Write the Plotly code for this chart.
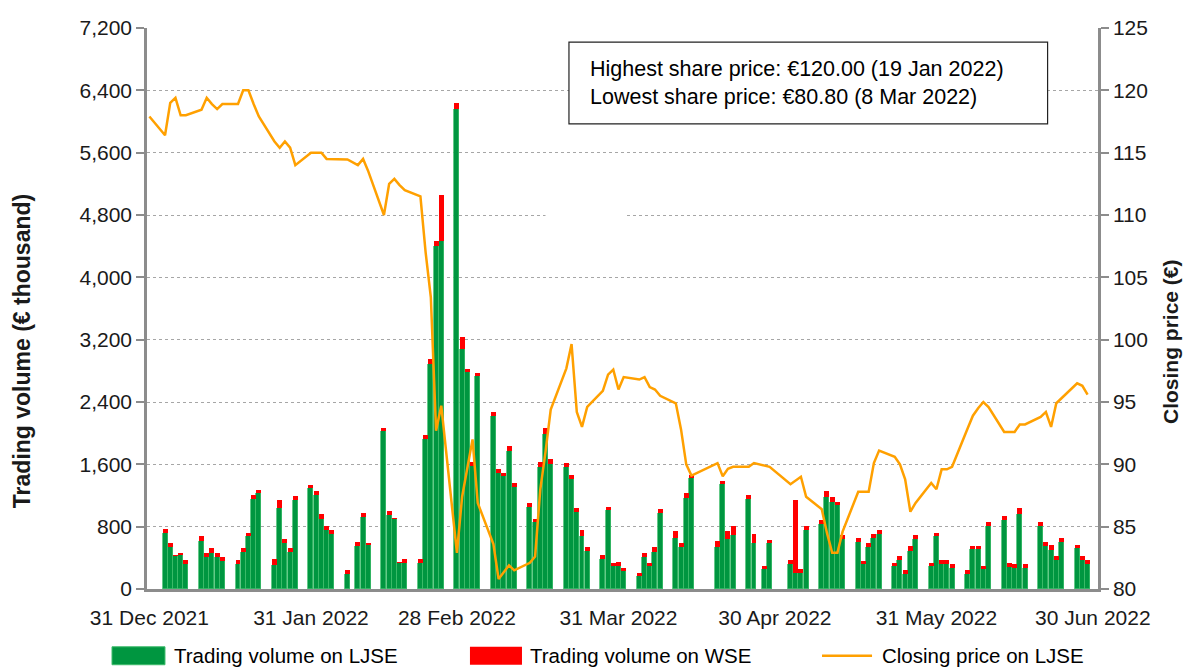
import pandas as pd
import plotly.graph_objects as go

# LJSE trading days Jan-Jun 2022 (Slovenian market holidays removed)
holidays = ["2022-02-08", "2022-04-15", "2022-04-18", "2022-04-27", "2022-05-02"]
trade_days = [d.strftime("%Y-%m-%d") for d in pd.bdate_range("2022-01-03", "2022-06-29")
              if d.strftime("%Y-%m-%d") not in holidays]
price_days = ["2021-12-31"] + trade_days

# trading volume, EUR thousand
ljse = [
    718, 544, 426, 440, 326,
    622, 405, 465, 405, 357,
    326, 470, 674, 1161, 1227,
    304, 1044, 587, 470, 1140,
    1292, 1205, 900, 753, 705,
    196, 557, 922, 574,
    2023, 944, 900, 335, 335,
    335, 1930, 2886, 4400, 4462,
    6156, 3080, 2786, 1585, 2735,
    2216, 1490, 1450, 1775, 1310,
    1058, 855, 1570, 1990, 1605,
    1562, 1414, 992, 674, 492,
    387, 1009, 300, 300, 226,
    161, 405, 291, 474, 979,
    661, 544, 1166, 1422,
    544, 1344, 644, 696,
    1161, 596, 257, 587,
    326, 204, 204, 761,
    840, 1183, 1118, 1079, 644,
    609, 322, 544, 661, 705,
    296, 370, 196, 492, 648,
    296, 679, 326, 326, 274,
    196, 513, 513, 257, 813,
    892, 287, 274, 966, 274,
    813, 557, 500, 378, 609,
    522, 374, 326,
]
wse = [
    52, 43, 10, 10, 44,
    52, 52, 57, 52, 48,
    44, 52, 44, 48, 48,
    87, 96, 52, 52, 48,
    48, 52, 57, 52, 52,
    43, 48, 52, 5,
    43, 56, 5, 5, 48,
    44, 45, 69, 72, 592,
    78, 160, 44, 43, 43,
    61, 44, 45, 55, 55,
    44, 43, 60, 70, 60,
    60, 43, 48, 79, 43,
    48, 48, 35, 48, 44,
    43, 52, 44, 61, 43,
    79, 43, 61, 44,
    74, 48, 96, 109,
    44, 109, 43, 44,
    44, 936, 57, 44,
    43, 70, 57, 43, 43,
    43, 43, 43, 44, 48,
    43, 48, 43, 65, 44,
    43, 43, 44, 44, 44,
    43, 44, 44, 43, 44,
    48, 44, 44, 78, 44,
    44, 43, 70, 44, 43,
    48, 44, 44,
]
# closing price on LJSE, EUR
price = [
    117.9,
    116.4, 119.0, 119.4, 118.0, 118.0,
    118.45, 119.4, 118.9, 118.5, 118.9,
    118.9, 120.0, 120.0, 118.9, 117.9,
    115.9, 115.4, 115.9, 115.4, 114.0,
    115.0, 115.0, 115.0, 114.5, 114.5,
    114.45, 114.0, 114.5, 113.5,
    110.0, 112.5, 112.9, 112.4, 112.0,
    111.5, 107.0, 103.4, 92.7, 94.7,
    82.9, 87.4, 89.6, 92.0, 86.9,
    83.6, 80.8, 81.4, 81.9, 81.5,
    82.1, 82.6, 88.0, 91.0, 94.4,
    97.7, 99.65, 94.2, 93.0, 94.6,
    95.9, 97.2, 97.6, 96.0, 97.0,
    96.8, 97.0, 96.2, 96.0, 95.5,
    94.9, 92.8, 90.0, 89.1,
    90.1, 89.05, 89.65, 89.8,
    89.8, 90.1, 89.9, 89.8,
    88.4, 88.7, 89.0, 87.4,
    86.4, 84.5, 82.9, 82.9, 84.6,
    87.8, 87.8, 87.8, 90.1, 91.1,
    90.6, 90.0, 88.8, 86.2, 86.9,
    88.5, 88.0, 89.6, 89.6, 89.8,
    92.9, 93.9, 94.5, 95.0, 94.6,
    92.6, 92.6, 92.6, 93.2, 93.2,
    93.8, 94.2, 93.0, 94.9, 95.3,
    96.5, 96.3, 95.6,
]

tick_dates = ["2021-12-31", "2022-01-31", "2022-02-28", "2022-03-31",
              "2022-04-30", "2022-05-31", "2022-06-30"]
tick_text = ["31 Dec 2021", "31 Jan 2022", "28 Feb 2022", "31 Mar 2022",
             "30 Apr 2022", "31 May 2022", "30 Jun 2022"]

GREEN = "#009640"
RED = "#FF0000"
ORANGE = "#FFA000"
AXIS = "#8C8C8C"
FONT = "Liberation Sans, Arial, sans-serif"
DAY = 86400000

fig = go.Figure()
fig.add_trace(go.Bar(x=trade_days, y=ljse, width=DAY * 0.95, name="Trading volume on LJSE",
                     marker=dict(color=GREEN, line=dict(color="#3DBB6A", width=0.8))))
fig.add_trace(go.Bar(x=trade_days, y=wse, width=DAY * 0.95, name="Trading volume on WSE",
                     marker=dict(color=RED, line=dict(width=0))))
fig.add_trace(go.Scatter(x=price_days, y=price, yaxis="y2", mode="lines",
                         name="Closing price on LJSE", line=dict(color=ORANGE, width=2.5)))

# small break in the 4,800 gridline, as in the original
fig.add_shape(type="rect", xref="x", yref="y", layer="between",
              x0="2022-03-17", x1="2022-04-01 12:00", y0=4770, y1=4830,
              fillcolor="white", line=dict(width=0))

# info box
fig.add_shape(type="rect", xref="paper", yref="paper", x0=0.4437, x1=0.947, y0=0.829, y1=0.975,
              line=dict(color="#222222", width=1.2), fillcolor="white")
fig.add_annotation(xref="paper", yref="paper", x=0.4637, y=0.902, xanchor="left", yanchor="middle",
                   align="left", showarrow=False,
                   text="Highest share price: €120.00 (19 Jan 2022)<br>Lowest share price: €80.80 (8 Mar 2022)",
                   font=dict(family=FONT, size=21.5, color="black"))

# axis titles (placed like the original, a bit below the middle)
fig.add_annotation(xref="paper", yref="paper", x=-0.1314, y=0.424, textangle=-90, showarrow=False,
                   xanchor="center", yanchor="middle",
                   text="<b>Trading volume (€ thousand)</b>", font=dict(family=FONT, size=23, color="#1a1a1a"))
fig.add_annotation(xref="paper", yref="paper", x=1.0757, y=0.442, textangle=-90, showarrow=False,
                   xanchor="center", yanchor="middle",
                   text="<b>Closing price (€)</b>", font=dict(family=FONT, size=21, color="#1a1a1a"))

# legend drawn by hand along the bottom
LEG_Y = -0.119
fig.add_shape(type="rect", xref="paper", yref="paper", x0=-0.0368, x1=0.0189,
              y0=LEG_Y - 0.016, y1=LEG_Y + 0.016,
              fillcolor=GREEN, line=dict(color="#3DBB6A", width=1))
fig.add_shape(type="rect", xref="paper", yref="paper", x0=0.3396, x1=0.3943,
              y0=LEG_Y - 0.016, y1=LEG_Y + 0.016,
              fillcolor=RED, line=dict(width=0))
fig.add_shape(type="line", xref="paper", yref="paper", x0=0.7098, x1=0.7624, y0=LEG_Y, y1=LEG_Y,
              line=dict(color=ORANGE, width=2.5))
for xp, label in [(0.0263, "Trading volume on LJSE"), (0.4006, "Trading volume on WSE"),
                  (0.7708, "Closing price on LJSE")]:
    fig.add_annotation(xref="paper", yref="paper", x=xp, y=LEG_Y, xanchor="left", yanchor="middle",
                       showarrow=False, text=label, font=dict(family=FONT, size=20.5, color="black"))

# page body adds 8px around the figure, so the figure is sized to sit inside the window
fig.update_layout(
    width=1184, height=660,
    margin=dict(l=139, r=94, t=20, b=79, autoexpand=False),
    plot_bgcolor="white", paper_bgcolor="white",
    barmode="stack", bargap=0, showlegend=False,
    font=dict(family=FONT, size=21, color="#1a1a1a"),
    xaxis=dict(type="date", range=["2021-12-30 13:00", "2022-07-01 00:00"],
               tickvals=tick_dates, ticktext=tick_text, tickfont=dict(size=21),
               showgrid=False, showline=True, linecolor=AXIS, linewidth=2.5,
               ticks="", ticklabelstandoff=8),
    yaxis=dict(range=[0, 7200], dtick=800, tickformat=",", showgrid=True, gridcolor="#A6A6A6",
               griddash="dot", gridwidth=1, zeroline=False, showline=True, linecolor=AXIS, linewidth=2.5,
               ticks="outside", ticklen=8, tickwidth=2, tickcolor=AXIS, tickfont=dict(size=21)),
    yaxis2=dict(range=[80, 125], dtick=5, overlaying="y", side="right", showgrid=False, zeroline=False,
                showline=True, linecolor=AXIS, linewidth=2.5, ticks="outside", ticklen=8, tickwidth=2,
                tickcolor=AXIS, tickfont=dict(size=21)),
)

fig.write_html("out.html")
